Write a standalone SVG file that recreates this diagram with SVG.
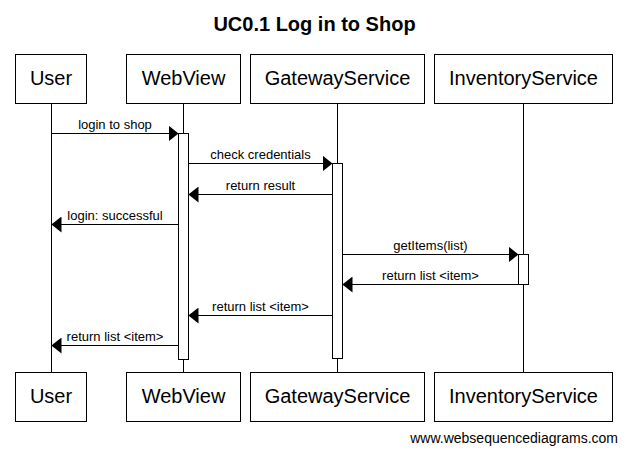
<svg xmlns="http://www.w3.org/2000/svg" width="627" height="455" viewBox="0 0 627 455">
<style>
  .box { fill: #fff; stroke: #000; stroke-width: 1; }
  .pl { font-family: "Liberation Sans", Arial, sans-serif; font-size: 20px; text-anchor: middle; fill: #000; }
  .ml { font-family: "Liberation Sans", Arial, sans-serif; font-size: 13px; text-anchor: middle; fill: #000; }
  .life { stroke: #000; stroke-width: 1; fill: none; }
  .msg { stroke: #000; stroke-width: 1; fill: none; marker-end: url(#ah); }
  .act { fill: #fff; stroke: #000; stroke-width: 1; }
</style>
<defs>
  <marker id="ah" markerUnits="userSpaceOnUse" markerWidth="10" markerHeight="16" refX="10" refY="8" orient="auto" viewBox="0 0 10 16">
    <path d="M0,0 L10,8 L0,16 z" fill="#000"/>
  </marker>
</defs>
<rect width="627" height="455" fill="#fff"/>
<text x="314.5" y="31" font-family="'Liberation Sans', Arial, sans-serif" font-size="20" font-weight="bold" text-anchor="middle">UC0.1 Log in to Shop</text>

<g id="lifelines">
  <line class="life" x1="51.5" y1="103.5" x2="51.5" y2="372.5"/>
  <line class="life" x1="183.5" y1="103.5" x2="183.5" y2="372.5"/>
  <line class="life" x1="337.5" y1="103.5" x2="337.5" y2="372.5"/>
  <line class="life" x1="523.5" y1="103.5" x2="523.5" y2="372.5"/>
</g>

<g id="User">
  <rect class="box" x="15.5" y="54.5" width="71" height="49"/>
  <text class="pl" x="51" y="85">User</text>
  <rect class="box" x="15.5" y="372.5" width="71" height="49"/>
  <text class="pl" x="51" y="403">User</text>
</g>
<g id="WebView">
  <rect class="box" x="126.5" y="54.5" width="114" height="49"/>
  <text class="pl" x="183.5" y="85">WebView</text>
  <rect class="box" x="126.5" y="372.5" width="114" height="49"/>
  <text class="pl" x="183.5" y="403">WebView</text>
  <rect class="act" x="178.5" y="133.5" width="10" height="226"/>
</g>
<g id="GatewayService">
  <rect class="box" x="250.5" y="54.5" width="174" height="49"/>
  <text class="pl" x="337.5" y="85">GatewayService</text>
  <rect class="box" x="250.5" y="372.5" width="174" height="49"/>
  <text class="pl" x="337.5" y="403">GatewayService</text>
  <rect class="act" x="332.5" y="163.5" width="10" height="195"/>
</g>
<g id="InventoryService">
  <rect class="box" x="434.5" y="54.5" width="178" height="49"/>
  <text class="pl" x="523.5" y="85">InventoryService</text>
  <rect class="box" x="434.5" y="372.5" width="178" height="49"/>
  <text class="pl" x="523.5" y="403">InventoryService</text>
  <rect class="act" x="518.5" y="254.5" width="10" height="30"/>
</g>

<g id="connectors">
  <line class="msg" x1="51.5" y1="133.5" x2="178.5" y2="133.5"/>
  <text class="ml" x="115" y="129">login to shop</text>
  <line class="msg" x1="188.5" y1="163.5" x2="332.5" y2="163.5"/>
  <text class="ml" x="260.5" y="159">check credentials</text>
  <line class="msg" x1="332.5" y1="194.5" x2="188.5" y2="194.5"/>
  <text class="ml" x="260.5" y="190">return result</text>
  <line class="msg" x1="178.5" y1="224.5" x2="51.5" y2="224.5"/>
  <text class="ml" x="115" y="220">login: successful</text>
  <line class="msg" x1="342.5" y1="254.5" x2="518.5" y2="254.5"/>
  <text class="ml" x="430.5" y="250">getItems(list)</text>
  <line class="msg" x1="518.5" y1="284.5" x2="342.5" y2="284.5"/>
  <text class="ml" x="430.5" y="280">return list &lt;item&gt;</text>
  <line class="msg" x1="332.5" y1="315.5" x2="188.5" y2="315.5"/>
  <text class="ml" x="260.5" y="311">return list &lt;item&gt;</text>
  <line class="msg" x1="178.5" y1="345.5" x2="51.5" y2="345.5"/>
  <text class="ml" x="115" y="341">return list &lt;item&gt;</text>
</g>

<text x="618" y="443" font-family="'Liberation Sans', Arial, sans-serif" font-size="14" text-anchor="end">www.websequencediagrams.com</text>
</svg>
